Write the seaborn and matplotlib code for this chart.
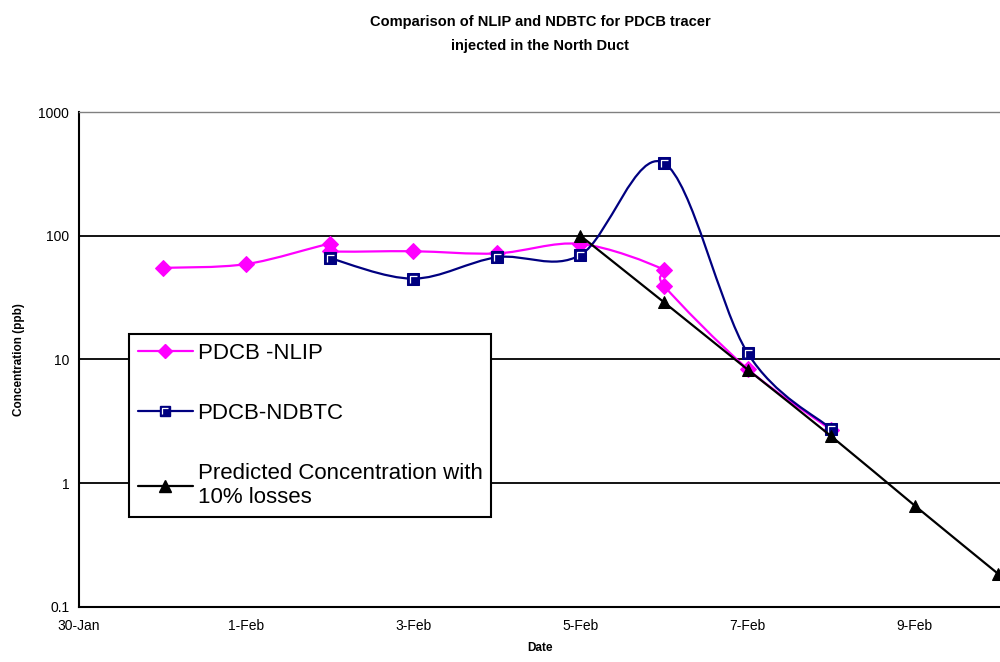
"""
NLIP vs NDBTC comparison for the PDCB tracer (North Duct)
Output: out.png
"""

import numpy as np
import pandas as pd
import matplotlib
matplotlib.use("Agg")
import matplotlib.pyplot as plt
import matplotlib.dates as mdates
from matplotlib.path import Path
from matplotlib.patches import PathPatch
from matplotlib.lines import Line2D
from matplotlib.legend_handler import HandlerTuple
import seaborn as sns

# --- data ---
nlip_dates = ["2003-01-31", "2003-02-01", "2003-02-02", "2003-02-02", "2003-02-03",
              "2003-02-04", "2003-02-05", "2003-02-06", "2003-02-06", "2003-02-07",
              "2003-02-08"]
nlip_ppb = [55, 59, 86, 75, 75, 72, 86, 53, 39.5, 8.4, 2.7]

ndbtc_dates = ["2003-02-02", "2003-02-03", "2003-02-04", "2003-02-05", "2003-02-06",
               "2003-02-07", "2003-02-08"]
ndbtc_ppb = [66, 45, 67, 70, 387, 11.3, 2.75]

pred_dates = ["2003-02-05", "2003-02-06", "2003-02-07", "2003-02-08", "2003-02-09",
              "2003-02-10"]
pred_ppb = [100, 29, 8.3, 2.4, 0.66, 0.185]

tick_dates = ["2003-01-30", "2003-02-01", "2003-02-03", "2003-02-05", "2003-02-07",
              "2003-02-09"]
tick_labels = ["30-Jan", "1-Feb", "3-Feb", "5-Feb", "7-Feb", "9-Feb"]
y_ticks = [0.1, 1, 10, 100, 1000]
y_labels = ["0.1", "1", "10", "100", "1000"]

labels = ["PDCB -NLIP", "PDCB-NDBTC", "Predicted Concentration with\n10% losses"]


def smooth_path(dates, values):
    """Excel-style smoothed line: cubic Bezier through the points (log y)"""
    x = mdates.date2num(pd.to_datetime(dates))
    y = np.log10(values)
    n = len(x)
    verts = [(x[0], y[0])]
    codes = [Path.MOVETO]
    for i in range(n - 1):
        p0 = max(i - 1, 0)
        p3 = min(i + 2, n - 1)
        c1 = (x[i] + (x[i + 1] - x[p0]) / 6, y[i] + (y[i + 1] - y[p0]) / 6)
        c2 = (x[i + 1] - (x[p3] - x[i]) / 6, y[i + 1] - (y[p3] - y[i]) / 6)
        verts += [c1, c2, (x[i + 1], y[i + 1])]
        codes += [Path.CURVE4] * 3
    verts = [(vx, 10 ** vy) for vx, vy in verts]
    return Path(verts, codes)


def main():
    sns.set_style("white")
    plt.rcParams["font.family"] = ["Liberation Sans", "DejaVu Sans"]
    plt.rcParams["text.color"] = "black"
    plt.rcParams["axes.labelcolor"] = "black"
    plt.rcParams["xtick.color"] = "black"
    plt.rcParams["ytick.color"] = "black"

    fig = plt.figure(figsize=(10, 6.62), dpi=100)
    ax = fig.add_axes([0.079, 0.0831, 0.921, 0.7477])
    ax.set_yscale("log")

    for yv in [1, 10, 100]:
        ax.axhline(yv, color="black", lw=1.3, zorder=1)

    # highlight mark inside the Excel-style square
    hl = Path([(-0.35, -0.45), (-0.35, 0.35), (0.45, 0.35)],
              [Path.MOVETO, Path.LINETO, Path.LINETO])

    series = [
        (nlip_dates, nlip_ppb, "#FF00FF", "D", 8),
        (ndbtc_dates, ndbtc_ppb, "#000080", "s", 8.5),
        (pred_dates, pred_ppb, "black", "^", 9),
    ]
    handles = []
    z = 2
    for dates, vals, col, mk, ms in series:
        ax.add_patch(PathPatch(smooth_path(dates, vals), facecolor="none",
                               edgecolor=col, lw=1.6, transform=ax.transData,
                               zorder=z))
        df = pd.DataFrame({"date": pd.to_datetime(dates), "ppb": vals})
        sns.lineplot(data=df, x="date", y="ppb", estimator=None, sort=False,
                     linestyle="", marker=mk, markersize=ms, color=col,
                     markeredgecolor=col, ax=ax, zorder=z + 1, legend=False)
        h = Line2D([], [], color=col, lw=1.6, marker=mk, markersize=ms - 1,
                   markerfacecolor=col, markeredgecolor=col)
        if mk == "s":
            ax.plot(df["date"], df["ppb"], linestyle="", marker=hl,
                    markersize=6, markerfacecolor="none", markeredgecolor="white",
                    markeredgewidth=0.9, zorder=z + 1.5)
            h2 = Line2D([], [], linestyle="", marker=hl, markersize=5,
                        markerfacecolor="none", markeredgecolor="white",
                        markeredgewidth=0.9)
            handles.append((h, h2))
        else:
            handles.append(h)
        z += 2

    ticks = pd.to_datetime(tick_dates)
    ax.set_xticks(ticks)
    ax.set_xticklabels(tick_labels, fontsize=10)
    ax.set_xlim(pd.Timestamp("2003-01-30"), pd.Timestamp("2003-02-10 00:30"))
    ax.set_ylim(0.1, 1000)
    ax.set_yticks(y_ticks)
    ax.set_yticklabels(y_labels, fontsize=10)
    ax.yaxis.set_minor_locator(matplotlib.ticker.NullLocator())
    ax.tick_params(axis="both", direction="out", length=4, width=1.2,
                   color="black", pad=3, labelcolor="black")
    ax.tick_params(axis="x", pad=5)

    for side in ["left", "bottom"]:
        ax.spines[side].set_color("black")
        ax.spines[side].set_linewidth(1.5)
    ax.spines["top"].set_color("#808080")
    ax.spines["top"].set_linewidth(1)
    ax.spines["right"].set_visible(False)

    ax.set_xlabel("Date", fontsize=8.5, fontweight="bold", labelpad=6)
    ax.set_ylabel("Concentration (ppb)", fontsize=8.5, fontweight="bold", labelpad=10)

    fig.text(0.54, 0.977, "Comparison of NLIP and NDBTC for PDCB tracer\ninjected in the North Duct",
             ha="center", va="top", fontsize=10.5, fontweight="bold", linespacing=1.85)

    leg = ax.legend(handles, labels, loc="lower left", bbox_to_anchor=(0.054, 0.182),
                    borderaxespad=0, fontsize=16, frameon=True, fancybox=False,
                    edgecolor="black", framealpha=1, facecolor="white",
                    handlelength=2.5, handletextpad=0.2,
                    labelspacing=1.75, borderpad=0.4,
                    handler_map={tuple: HandlerTuple(ndivide=1, pad=0)})
    leg.get_frame().set_linewidth(1.5)
    leg.set_zorder(20)

    fig.savefig("out.png", dpi=100)
    plt.close(fig)


if __name__ == "__main__":
    main()
